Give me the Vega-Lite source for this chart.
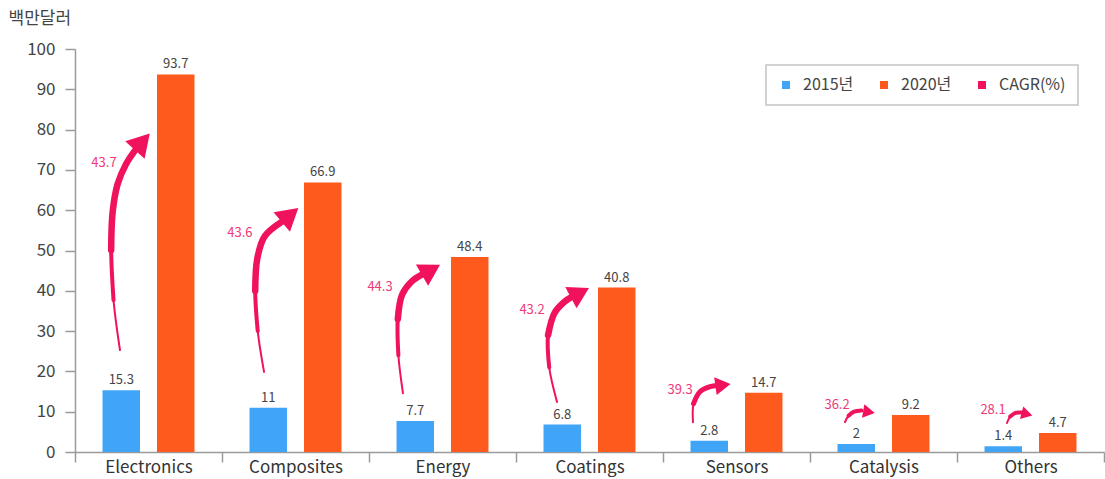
{
  "$schema": "https://vega.github.io/schema/vega-lite/v6.json",
  "width": 1029,
  "height": 403,
  "autosize": {"type": "none"},
  "padding": {"left": 75, "top": 49, "right": 1, "bottom": 27},
  "background": "white",
  "config": {
    "font": "Noto Sans CJK KR",
    "view": {"stroke": null},
    "axis": {"grid": false, "domainColor": "#9a9a9a", "tickColor": "#9a9a9a", "domainWidth": 1.5, "tickWidth": 1.5, "tickSize": 10}
  },
  "datasets": {
    "bars": [
      {"cat": "Electronics", "year": "2015년", "value": 15.3},
      {"cat": "Electronics", "year": "2020년", "value": 93.7},
      {"cat": "Composites", "year": "2015년", "value": 11},
      {"cat": "Composites", "year": "2020년", "value": 66.9},
      {"cat": "Energy", "year": "2015년", "value": 7.7},
      {"cat": "Energy", "year": "2020년", "value": 48.4},
      {"cat": "Coatings", "year": "2015년", "value": 6.8},
      {"cat": "Coatings", "year": "2020년", "value": 40.8},
      {"cat": "Sensors", "year": "2015년", "value": 2.8},
      {"cat": "Sensors", "year": "2020년", "value": 14.7},
      {"cat": "Catalysis", "year": "2015년", "value": 2},
      {"cat": "Catalysis", "year": "2020년", "value": 9.2},
      {"cat": "Others", "year": "2015년", "value": 1.4},
      {"cat": "Others", "year": "2020년", "value": 4.7}
    ],
    "arrows": [
      {"cat": "Electronics", "part": "a", "seq": 1, "pos": 0.306, "value": 25.3, "w": 2},
      {"cat": "Electronics", "part": "a", "seq": 2, "pos": 0.262, "value": 37.7, "w": 2},
      {"cat": "Electronics", "part": "a", "seq": 3, "pos": 0.246, "value": 50.1, "w": 2},
      {"cat": "Electronics", "part": "a", "seq": 4, "pos": 0.256, "value": 59.5, "w": 2},
      {"cat": "Electronics", "part": "a", "seq": 5, "pos": 0.290, "value": 66.5, "w": 2},
      {"cat": "Electronics", "part": "a", "seq": 6, "pos": 0.345, "value": 71.3, "w": 2},
      {"cat": "Electronics", "part": "a", "seq": 7, "pos": 0.410, "value": 74.9, "w": 2},
      {"cat": "Electronics", "part": "b", "seq": 2, "pos": 0.262, "value": 37.7, "w": 4},
      {"cat": "Electronics", "part": "b", "seq": 3, "pos": 0.246, "value": 50.1, "w": 4},
      {"cat": "Electronics", "part": "b", "seq": 4, "pos": 0.256, "value": 59.5, "w": 4},
      {"cat": "Electronics", "part": "b", "seq": 5, "pos": 0.290, "value": 66.5, "w": 4},
      {"cat": "Electronics", "part": "b", "seq": 6, "pos": 0.345, "value": 71.3, "w": 4},
      {"cat": "Electronics", "part": "b", "seq": 7, "pos": 0.410, "value": 74.9, "w": 4},
      {"cat": "Electronics", "part": "c", "seq": 3, "pos": 0.246, "value": 50.1, "w": 6.5},
      {"cat": "Electronics", "part": "c", "seq": 4, "pos": 0.256, "value": 59.5, "w": 6.5},
      {"cat": "Electronics", "part": "c", "seq": 5, "pos": 0.290, "value": 66.5, "w": 6.5},
      {"cat": "Electronics", "part": "c", "seq": 6, "pos": 0.345, "value": 71.3, "w": 6.5},
      {"cat": "Electronics", "part": "c", "seq": 7, "pos": 0.410, "value": 74.9, "w": 6.5},

      {"cat": "Composites", "part": "a", "seq": 1, "pos": 1.286, "value": 19.9, "w": 2},
      {"cat": "Composites", "part": "a", "seq": 2, "pos": 1.243, "value": 30.0, "w": 2},
      {"cat": "Composites", "part": "a", "seq": 3, "pos": 1.226, "value": 40.0, "w": 2},
      {"cat": "Composites", "part": "a", "seq": 4, "pos": 1.240, "value": 48.0, "w": 2},
      {"cat": "Composites", "part": "a", "seq": 5, "pos": 1.290, "value": 53.5, "w": 2},
      {"cat": "Composites", "part": "a", "seq": 6, "pos": 1.415, "value": 57.3, "w": 2},
      {"cat": "Composites", "part": "b", "seq": 2, "pos": 1.243, "value": 30.0, "w": 4},
      {"cat": "Composites", "part": "b", "seq": 3, "pos": 1.226, "value": 40.0, "w": 4},
      {"cat": "Composites", "part": "b", "seq": 4, "pos": 1.240, "value": 48.0, "w": 4},
      {"cat": "Composites", "part": "b", "seq": 5, "pos": 1.290, "value": 53.5, "w": 4},
      {"cat": "Composites", "part": "b", "seq": 6, "pos": 1.415, "value": 57.3, "w": 4},
      {"cat": "Composites", "part": "c", "seq": 3, "pos": 1.226, "value": 40.0, "w": 6.5},
      {"cat": "Composites", "part": "c", "seq": 4, "pos": 1.240, "value": 48.0, "w": 6.5},
      {"cat": "Composites", "part": "c", "seq": 5, "pos": 1.290, "value": 53.5, "w": 6.5},
      {"cat": "Composites", "part": "c", "seq": 6, "pos": 1.415, "value": 57.3, "w": 6.5},

      {"cat": "Energy", "part": "a", "seq": 1, "pos": 2.231, "value": 14.6, "w": 2},
      {"cat": "Energy", "part": "a", "seq": 2, "pos": 2.200, "value": 24.0, "w": 2},
      {"cat": "Energy", "part": "a", "seq": 3, "pos": 2.196, "value": 33.0, "w": 2},
      {"cat": "Energy", "part": "a", "seq": 4, "pos": 2.225, "value": 39.0, "w": 2},
      {"cat": "Energy", "part": "a", "seq": 5, "pos": 2.290, "value": 42.3, "w": 2},
      {"cat": "Energy", "part": "a", "seq": 6, "pos": 2.360, "value": 44.0, "w": 2},
      {"cat": "Energy", "part": "b", "seq": 2, "pos": 2.200, "value": 24.0, "w": 4},
      {"cat": "Energy", "part": "b", "seq": 3, "pos": 2.196, "value": 33.0, "w": 4},
      {"cat": "Energy", "part": "b", "seq": 4, "pos": 2.225, "value": 39.0, "w": 4},
      {"cat": "Energy", "part": "b", "seq": 5, "pos": 2.290, "value": 42.3, "w": 4},
      {"cat": "Energy", "part": "b", "seq": 6, "pos": 2.360, "value": 44.0, "w": 4},
      {"cat": "Energy", "part": "c", "seq": 3, "pos": 2.196, "value": 33.0, "w": 6.5},
      {"cat": "Energy", "part": "c", "seq": 4, "pos": 2.225, "value": 39.0, "w": 6.5},
      {"cat": "Energy", "part": "c", "seq": 5, "pos": 2.290, "value": 42.3, "w": 6.5},
      {"cat": "Energy", "part": "c", "seq": 6, "pos": 2.360, "value": 44.0, "w": 6.5},

      {"cat": "Coatings", "part": "a", "seq": 1, "pos": 3.279, "value": 12.4, "w": 2},
      {"cat": "Coatings", "part": "a", "seq": 2, "pos": 3.226, "value": 21.0, "w": 2},
      {"cat": "Coatings", "part": "a", "seq": 3, "pos": 3.218, "value": 29.0, "w": 2},
      {"cat": "Coatings", "part": "a", "seq": 4, "pos": 3.262, "value": 34.5, "w": 2},
      {"cat": "Coatings", "part": "a", "seq": 5, "pos": 3.330, "value": 37.3, "w": 2},
      {"cat": "Coatings", "part": "a", "seq": 6, "pos": 3.380, "value": 38.5, "w": 2},
      {"cat": "Coatings", "part": "b", "seq": 2, "pos": 3.226, "value": 21.0, "w": 4},
      {"cat": "Coatings", "part": "b", "seq": 3, "pos": 3.218, "value": 29.0, "w": 4},
      {"cat": "Coatings", "part": "b", "seq": 4, "pos": 3.262, "value": 34.5, "w": 4},
      {"cat": "Coatings", "part": "b", "seq": 5, "pos": 3.330, "value": 37.3, "w": 4},
      {"cat": "Coatings", "part": "b", "seq": 6, "pos": 3.380, "value": 38.5, "w": 4},
      {"cat": "Coatings", "part": "c", "seq": 3, "pos": 3.218, "value": 29.0, "w": 6.5},
      {"cat": "Coatings", "part": "c", "seq": 4, "pos": 3.262, "value": 34.5, "w": 6.5},
      {"cat": "Coatings", "part": "c", "seq": 5, "pos": 3.330, "value": 37.3, "w": 6.5},
      {"cat": "Coatings", "part": "c", "seq": 6, "pos": 3.380, "value": 38.5, "w": 6.5},

      {"cat": "Sensors", "part": "a", "seq": 1, "pos": 4.204, "value": 7.4, "w": 2},
      {"cat": "Sensors", "part": "a", "seq": 2, "pos": 4.208, "value": 12.0, "w": 2},
      {"cat": "Sensors", "part": "a", "seq": 3, "pos": 4.250, "value": 14.9, "w": 2},
      {"cat": "Sensors", "part": "a", "seq": 4, "pos": 4.320, "value": 16.2, "w": 2},
      {"cat": "Sensors", "part": "a", "seq": 5, "pos": 4.370, "value": 16.5, "w": 2},
      {"cat": "Sensors", "part": "b", "seq": 2, "pos": 4.208, "value": 12.0, "w": 5},
      {"cat": "Sensors", "part": "b", "seq": 3, "pos": 4.250, "value": 14.9, "w": 5},
      {"cat": "Sensors", "part": "b", "seq": 4, "pos": 4.320, "value": 16.2, "w": 5},
      {"cat": "Sensors", "part": "b", "seq": 5, "pos": 4.370, "value": 16.5, "w": 5},

      {"cat": "Catalysis", "part": "a", "seq": 1, "pos": 5.238, "value": 7.4, "w": 2},
      {"cat": "Catalysis", "part": "a", "seq": 2, "pos": 5.262, "value": 9.0, "w": 2},
      {"cat": "Catalysis", "part": "a", "seq": 3, "pos": 5.300, "value": 10.0, "w": 2},
      {"cat": "Catalysis", "part": "a", "seq": 4, "pos": 5.350, "value": 10.3, "w": 2},
      {"cat": "Catalysis", "part": "b", "seq": 2, "pos": 5.262, "value": 9.0, "w": 4},
      {"cat": "Catalysis", "part": "b", "seq": 3, "pos": 5.300, "value": 10.0, "w": 4},
      {"cat": "Catalysis", "part": "b", "seq": 4, "pos": 5.350, "value": 10.3, "w": 4},

      {"cat": "Others", "part": "a", "seq": 1, "pos": 6.340, "value": 7.2, "w": 2},
      {"cat": "Others", "part": "a", "seq": 2, "pos": 6.362, "value": 8.8, "w": 2},
      {"cat": "Others", "part": "a", "seq": 3, "pos": 6.398, "value": 9.7, "w": 2},
      {"cat": "Others", "part": "a", "seq": 4, "pos": 6.440, "value": 9.8, "w": 2},
      {"cat": "Others", "part": "b", "seq": 2, "pos": 6.362, "value": 8.8, "w": 4},
      {"cat": "Others", "part": "b", "seq": 3, "pos": 6.398, "value": 9.7, "w": 4},
      {"cat": "Others", "part": "b", "seq": 4, "pos": 6.440, "value": 9.8, "w": 4}
    ],
    "heads": [
      {"cat": "Electronics", "pos": 0.458, "value": 77.0, "angle": 42, "size": 680},
      {"cat": "Composites", "pos": 1.463, "value": 58.8, "angle": 50, "size": 650},
      {"cat": "Energy", "pos": 2.422, "value": 45.2, "angle": 60, "size": 600},
      {"cat": "Coatings", "pos": 3.435, "value": 39.5, "angle": 62, "size": 580},
      {"cat": "Sensors", "pos": 4.408, "value": 16.6, "angle": 82, "size": 320},
      {"cat": "Catalysis", "pos": 5.401, "value": 9.9, "angle": 100, "size": 190},
      {"cat": "Others", "pos": 6.476, "value": 9.4, "angle": 105, "size": 170}
    ],
    "cagr": [
      {"cat": "Electronics", "pos": 0.197, "value": 71.7, "label": "43.7"},
      {"cat": "Composites", "pos": 1.122, "value": 54.3, "label": "43.6"},
      {"cat": "Energy", "pos": 2.075, "value": 40.9, "label": "44.3"},
      {"cat": "Coatings", "pos": 3.109, "value": 35.2, "label": "43.2"},
      {"cat": "Sensors", "pos": 4.116, "value": 15.4, "label": "39.3"},
      {"cat": "Catalysis", "pos": 5.184, "value": 11.7, "label": "36.2"},
      {"cat": "Others", "pos": 6.245, "value": 10.4, "label": "28.1"}
    ]
  },
  "layer": [
    {
      "data": {"name": "bars"},
      "encoding": {
        "x": {
          "field": "cat", "type": "nominal", "sort": null,
          "scale": {"paddingInner": 0, "paddingOuter": 0},
          "axis": {"title": null, "labelFontSize": 17, "labelColor": "#333333", "labelAngle": 0, "tickBand": "extent", "labelPadding": 5, "labelBaseline": "middle"}
        },
        "xOffset": {"field": "year", "type": "nominal", "scale": {"paddingInner": 0.312, "paddingOuter": 0.505}},
        "y": {
          "field": "value", "type": "quantitative",
          "scale": {"domain": [0, 100], "nice": false},
          "axis": {"title": "백만달러", "titleAngle": 0, "titleAlign": "left", "titleBaseline": "middle", "titleX": -67, "titleY": -31, "titleFontSize": 17, "titleFontWeight": "normal", "titleColor": "#444444", "values": [0, 10, 20, 30, 40, 50, 60, 70, 80, 90, 100], "labelFontSize": 17, "labelColor": "#444444", "labelPadding": 10}
        }
      },
      "layer": [
        {
          "mark": {"type": "bar"},
          "encoding": {
            "color": {
              "field": "year", "type": "nominal",
              "scale": {"domain": ["2015년", "2020년", "CAGR(%)"], "range": ["#40A4F7", "#FF5A1E", "#F0125C"]},
              "legend": {
                "title": null, "orient": "none", "direction": "horizontal", "legendX": 691, "legendY": 16,
                "padding": 12, "strokeColor": "#c4c4c4", "fillColor": "white",
                "symbolType": "square", "symbolSize": 64, "symbolStrokeWidth": 0,
                "labelFontSize": 16, "labelColor": "#444444", "labelOffset": 9, "columnPadding": 22,
                "offset": 0,
                "encode": {"legend": {"update": {"strokeWidth": {"value": 1.5}}}}
              }
            }
          }
        },
        {
          "mark": {"type": "text", "baseline": "bottom", "dy": -3, "fontSize": 13, "color": "#444444"},
          "encoding": {"text": {"field": "value", "type": "quantitative"}}
        }
      ]
    },
    {
      "encoding": {
        "x": {"field": "pos", "type": "quantitative", "scale": {"domain": [0, 7], "nice": false, "zero": false}, "axis": null},
        "y": {"field": "value", "type": "quantitative", "scale": {"domain": [0, 100], "nice": false}}
      },
      "layer": [
        {
          "data": {"name": "arrows"},
          "mark": {"type": "line", "color": "#F0125C", "interpolate": "catmull-rom", "strokeCap": "round"},
          "encoding": {
            "detail": [{"field": "cat", "type": "nominal"}, {"field": "part", "type": "nominal"}],
            "order": {"field": "seq", "type": "quantitative"},
            "strokeWidth": {"field": "w", "type": "quantitative", "scale": null, "legend": null}
          }
        },
        {
          "data": {"name": "heads"},
          "mark": {"type": "point", "shape": "M0,-0.85L1,0.85L-1,0.85Z", "filled": true, "opacity": 1, "color": "#F0125C"},
          "encoding": {
            "angle": {"field": "angle", "type": "quantitative", "scale": null},
            "size": {"field": "size", "type": "quantitative", "scale": null, "legend": null}
          }
        },
        {
          "data": {"name": "cagr"},
          "mark": {"type": "text", "fontSize": 13, "color": "#EE3A78", "align": "center", "baseline": "middle"},
          "encoding": {"text": {"field": "label", "type": "nominal"}}
        }
      ]
    }
  ],
  "resolve": {"scale": {"x": "independent", "size": "independent", "strokeWidth": "independent"}}
}
